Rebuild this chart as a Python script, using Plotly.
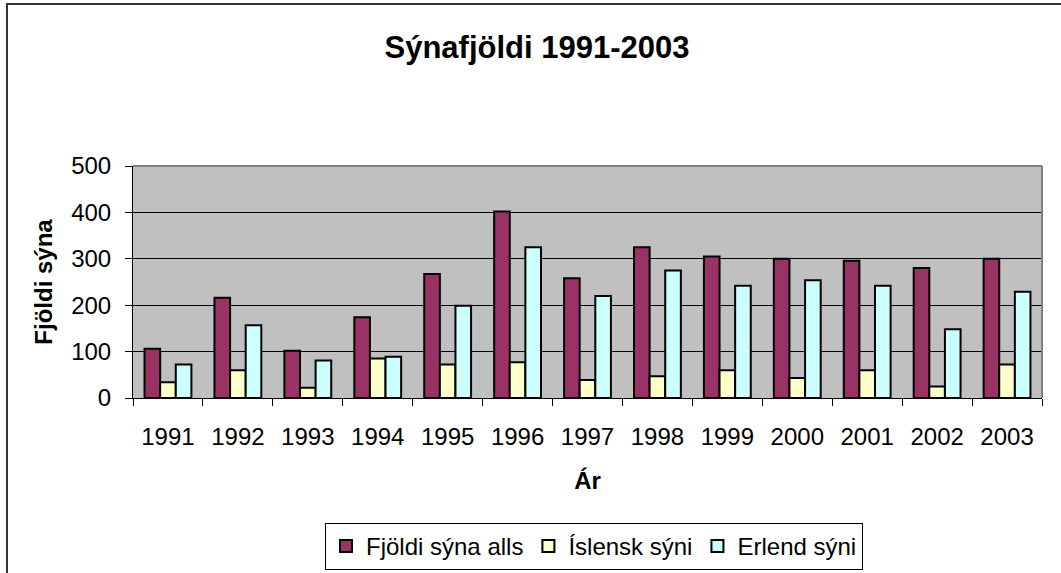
import plotly.graph_objects as go

years = ["1991", "1992", "1993", "1994", "1995", "1996", "1997",
         "1998", "1999", "2000", "2001", "2002", "2003"]
fjoldi_alls = [106, 216, 102, 174, 267, 402, 258, 325, 305, 300, 296, 280, 300]
islensk = [34, 60, 22, 85, 72, 77, 39, 47, 60, 43, 60, 25, 72]
erlend = [72, 157, 81, 89, 199, 325, 220, 275, 242, 254, 242, 148, 229]

series_names = ["Fjöldi sýna alls", "Íslensk sýni", "Erlend sýni"]
series_colors = ["#993366", "#FFFFCC", "#CCFFFF"]
y_ticks = [0, 100, 200, 300, 400, 500]

FONT = "Liberation Sans, Arial, sans-serif"
W, H = 1061, 573
L, R, T, B = 133, 19, 166, 175
PW, PH = W - L - R, H - T - B


def px_x(p):
    return (p - L) / PW


def px_y(p):
    return (H - B - p) / PH


fig = go.Figure()
for name, vals, col in zip(series_names, [fjoldi_alls, islensk, erlend], series_colors):
    fig.add_trace(go.Bar(
        x=years, y=vals, name=name,
        marker=dict(color=col, line=dict(color="black", width=2)),
    ))

fig.update_layout(
    width=W, height=H,
    margin=dict(l=L, r=R, t=T, b=B, autoexpand=False),
    paper_bgcolor="white",
    plot_bgcolor="#C0C0C0",
    font=dict(family=FONT, color="black", size=24),
    barmode="group",
    bargap=0.33,
    bargroupgap=0,
    title=dict(
        text="<b>Sýnafjöldi 1991-2003</b>",
        font=dict(size=31, family=FONT, color="black"),
        xref="container", x=537 / W, xanchor="center",
        yref="container", y=1 - 47 / H, yanchor="middle",
    ),
    showlegend=True,
    legend=dict(
        orientation="h",
        x=px_x(594), xanchor="center",
        y=px_y(523), yanchor="top",
        bordercolor="black", borderwidth=1,
        bgcolor="white",
        font=dict(size=24, family=FONT),
        traceorder="normal",
    ),
    xaxis=dict(
        type="category",
        showline=True, linecolor="black", linewidth=1,
        ticks="outside", tickson="boundaries", ticklen=7, tickcolor="black",
        showgrid=False,
        tickfont=dict(size=24),
        ticklabelstandoff=17,
        title=dict(text="<b>Ár</b>", font=dict(size=24), standoff=23),
        automargin=False,
    ),
    yaxis=dict(
        range=[0, 500],
        tickvals=y_ticks,
        showline=True, linecolor="black", linewidth=1,
        ticks="outside", ticklen=7, tickcolor="black",
        showgrid=True, gridcolor="black", gridwidth=1,
        zeroline=False,
        tickfont=dict(size=24),
        ticklabelstandoff=9,
        title=dict(text="<b>Fjöldi sýna</b>", font=dict(size=24), standoff=11),
        automargin=False,
    ),
    shapes=[
        # plot area top/right border (gray)
        dict(type="line", xref="paper", yref="paper", x0=0, x1=1, y0=1, y1=1,
             line=dict(color="#808080", width=2), layer="above"),
        dict(type="line", xref="paper", yref="paper", x0=1, x1=1, y0=0, y1=1,
             line=dict(color="#808080", width=2), layer="above"),
        # outer chart border
        dict(type="rect", xref="paper", yref="paper",
             x0=px_x(7), x1=px_x(1075), y0=px_y(4), y1=px_y(590),
             line=dict(color="#333333", width=2), layer="below"),
    ],
)

fig.write_html(
    "out.html",
    config={"displayModeBar": False},
    post_script="document.body.style.margin='0';document.body.style.padding='0';",
)
